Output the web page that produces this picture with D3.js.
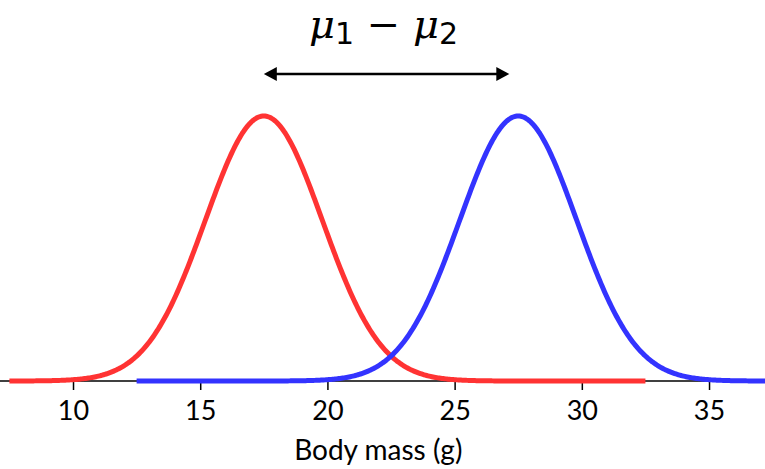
<!DOCTYPE html>
<html>
<head>
<meta charset="utf-8">
<script src="https://cdn.jsdelivr.net/npm/d3@7"></script>
<style>
html,body{margin:0;padding:0;background:#fff;}
svg{display:block;}
</style>
</head>
<body>
<svg id="chart" width="765" height="469"></svg>
<script>
// ---- data ----
const seriesNames = ["Group 1", "Group 2"];
const seriesColors = ["#ff3333", "#3333ff"];
const seriesMeans = [17.5, 27.5];
const seriesSDs = [2.3, 2.3];
const seriesFrom = [7.5, 12.5];
const seriesTo = [32.5, 42.5];
const tickValues = [10, 15, 20, 25, 30, 35];
const tickLabels = ["10", "15", "20", "25", "30", "35"];
const axisTitle = "Body mass (g)";
const arrowFrom = 17.5;
const arrowTo = 27.15;

const W = 765, H = 469;
const svg = d3.select("#chart");
const x = d3.scaleLinear().domain([7.13, 37.2]).range([0, 765]);
const pdf = (v, m, s) => Math.exp(-0.5 * ((v - m) / s) ** 2) / (s * Math.sqrt(2 * Math.PI));
const ymax = pdf(0, 0, seriesSDs[0]);
const y = d3.scaleLinear().domain([0, ymax]).range([381, 116]);

svg.append("defs").append("clipPath").attr("id", "clip")
  .append("rect").attr("x", 0).attr("y", 0).attr("width", W).attr("height", H);

// axis
const axis = d3.axisBottom(x).tickValues(tickValues)
  .tickFormat((d, i) => tickLabels[i]).tickSize(9).tickPadding(11);
const gx = svg.append("g").attr("transform", "translate(0,381)").call(axis);
gx.select(".domain").attr("d", `M0,0H${W}`).attr("stroke", "#000").attr("stroke-width", 1.5);
gx.selectAll(".tick line").attr("stroke", "#000").attr("stroke-width", 1.5);
gx.selectAll(".tick text").attr("font-family", "Lato, 'Open Sans', sans-serif")
  .attr("font-size", 27).attr("fill", "#000");

svg.append("text").attr("x", x(22)).attr("y", 460).attr("text-anchor", "middle")
  .attr("font-family", "Lato, 'Open Sans', sans-serif").attr("font-size", 28)
  .attr("fill", "#000").text(axisTitle);

// curves
const line = d3.line().x(d => x(d[0])).y(d => y(d[1])).curve(d3.curveLinear);
seriesNames.forEach((n, i) => {
  const pts = d3.range(seriesFrom[i], seriesTo[i] + 1e-9, 0.05)
    .map(v => [v, pdf(v, seriesMeans[i], seriesSDs[i])]);
  svg.append("path").datum(pts).attr("clip-path", "url(#clip)")
    .attr("d", line).attr("fill", "none")
    .attr("stroke", seriesColors[i]).attr("stroke-width", 5)
    .attr("stroke-linejoin", "round");
});

// arrow
const ay = 74, ah = 13, aw = 7;
const ax1 = x(arrowFrom), ax2 = x(arrowTo);
svg.append("line").attr("x1", ax1 + ah - 2).attr("x2", ax2 - ah + 2)
  .attr("y1", ay).attr("y2", ay).attr("stroke", "#000").attr("stroke-width", 2.5);
svg.append("path").attr("d", `M${ax1},${ay}L${ax1 + ah},${ay - aw}L${ax1 + ah},${ay + aw}Z`).attr("fill", "#000");
svg.append("path").attr("d", `M${ax2},${ay}L${ax2 - ah},${ay - aw}L${ax2 - ah},${ay + aw}Z`).attr("fill", "#000");

// label
const t = svg.append("text").attr("x", (ax1 + ax2) / 2 - 3).attr("y", 38)
  .attr("text-anchor", "middle").attr("font-family", "'DejaVu Serif', serif")
  .attr("font-size", 40).attr("fill", "#000");
t.append("tspan").attr("font-style", "italic").text("μ");
t.append("tspan").attr("font-size", 30).attr("dy", 6).attr("font-family", "'DejaVu Sans', sans-serif").text("1");
t.append("tspan").attr("dy", -6).text(" − ");
t.append("tspan").attr("font-style", "italic").text("μ");
t.append("tspan").attr("font-size", 30).attr("dy", 6).attr("font-family", "'DejaVu Sans', sans-serif").text("2");
</script>
</body>
</html>
